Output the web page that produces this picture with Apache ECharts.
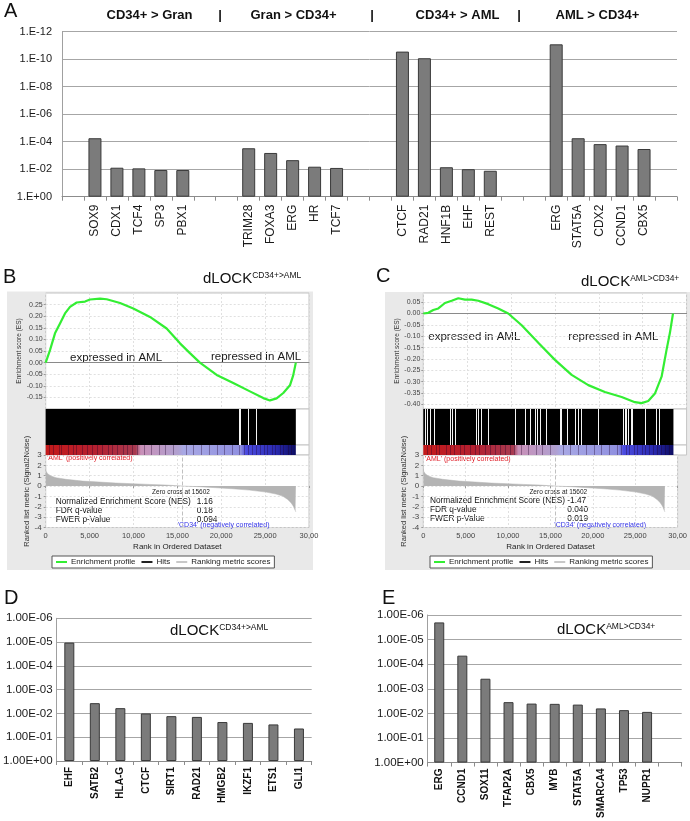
<!DOCTYPE html>
<html><head><meta charset="utf-8">
<script src="https://cdn.jsdelivr.net/npm/echarts@6/dist/echarts.min.js"></script>
<style>html,body{margin:0;padding:0;background:#fff}#c{width:690px;height:821px}</style>
</head><body><div id="c"></div>
<script>
// ---------- Panel A data ----------
const aCategories = ['', 'SOX9','CDX1','TCF4','SP3','PBX1', '', '', 'TRIM28','FOXA3','ERG','HR','TCF7', '', '', 'CTCF','RAD21','HNF1B','EHF','REST', '', '', 'ERG','STAT5A','CDX2','CCND1','CBX5', ''];
const aPvalues = [null, 5.6e-5, 7.8e-3, 8.7e-3, 1.15e-2, 1.15e-2, null, null, 3.0e-4, 6.6e-4, 2.2e-3, 6.6e-3, 8.1e-3, null, null, 2.8e-11, 8.5e-11, 7.2e-3, 1.0e-2, 1.3e-2, null, null, 8.3e-12, 5.6e-5, 1.5e-4, 1.9e-4, 3.4e-4, null];
const aHeaders = ['CD34+ > Gran', 'Gran > CD34+', 'CD34+ > AML', 'AML > CD34+'];

// ---------- Panel D / E data ----------
const dCategories = ['EHF','SATB2','HLA-G','CTCF','SIRT1','RAD21','HMGB2','IKZF1','ETS1','GLI1'];
const dPvalues = [1.05e-5, 3.7e-3, 6.0e-3, 1.0e-2, 1.3e-2, 1.4e-2, 2.3e-2, 2.5e-2, 2.9e-2, 4.3e-2];
const eCategories = ['ERG','CCND1','SOX11','TFAP2A','CBX5','MYB','STAT5A','SMARCA4','TP53','NUPR1',''];
const ePvalues = [2.0e-6, 4.5e-5, 3.9e-4, 3.5e-3, 4.0e-3, 4.1e-3, 4.4e-3, 6.3e-3, 7.4e-3, 8.7e-3, null];

// ---------- GSEA data (rank, value) ----------
const nRanks = 28500;
const zeroCross = 15602;
const esB = [[0,0],[490,0.054],[1060,0.126],[1630,0.169],[2200,0.212],[2770,0.240],[3530,0.259],[4480,0.263],[5050,0.272],[6190,0.276],[6950,0.273],[8470,0.257],[9980,0.233],[11880,0.197],[13780,0.147],[15300,0.083],[16400,0.042],[17570,0.0],[19480,-0.053],[21370,-0.088],[23270,-0.124],[24790,-0.153],[25550,-0.163],[26310,-0.154],[27070,-0.131],[27830,-0.098],[28200,-0.055],[28500,0]];
const esC = [[0,0],[570,0.003],[1140,0.015],[1710,0.022],[2470,0.046],[3230,0.056],[3990,0.067],[4750,0.061],[5510,0.061],[6270,0.056],[7400,0.041],[8540,0.022],[9680,0],[11210,-0.052],[13100,-0.129],[15000,-0.204],[16900,-0.27],[18800,-0.315],[20690,-0.345],[22600,-0.367],[24110,-0.39],[24870,-0.394],[25630,-0.385],[26390,-0.352],[27150,-0.278],[27720,-0.159],[28100,-0.085],[28450,0.0]];
const hitGapsB = [22020, 22210, 23080, 24030];
const hitGapsC = [194, 494, 760, 1253, 3041, 3345, 3686, 6078, 6267, 6647, 7404, 10445, 11584, 12153, 12723, 12985, 13292, 14055, 15570, 15760, 16444, 17279, 17655, 18041, 19932, 22780, 22970, 23166, 23345, 23655, 23802, 25253, 26584, 26880];
const bandStripes = [400, 900, 1500, 1800, 2600, 3100, 3500, 4200, 4700, 5300, 5900, 6400, 7100, 7600, 8200, 8800, 9300, 9900, 10400, 11200, 12000, 12900, 13600, 14500, 16000, 16800, 17700, 18600, 19500, 20300, 21200, 22100, 22600, 23100, 23500, 24000, 24400, 24900, 25300, 25800, 26200, 26700, 27100, 27600, 28000];
const rankedMetric = [[0,1.9],[30,1.45],[220,1.19],[600,0.97],[1170,0.81],[2310,0.65],[4210,0.48],[6110,0.39],[8010,0.29],[9910,0.23],[11800,0.16],[13700,0.10],[15602,0],[17500,-0.06],[19400,-0.16],[21300,-0.26],[23200,-0.39],[25100,-0.58],[26240,-0.77],[27000,-0.97],[27570,-1.29],[27950,-1.61],[28220,-1.94],[28450,-2.4],[28500,-2.5]];
const esTicksC = [-0.40,-0.35,-0.30,-0.25,-0.20,-0.15,-0.10,-0.05,0.00,0.05];
const statsB = [['Normalized Enrichment Score (NES)','1.16'],['FDR q-value','0.18'],['FWER p-Value','0.094']];
const statsC = [['Normalized Enrichment Score (NES)','-1.47'],['FDR q-value','0.040'],['FWER p-Value','0.019']];

const F = 'Liberation Sans, Arial, Helvetica, sans-serif';
const expLabel = prefix => v => { const e = Math.round(Math.log10(v)); return prefix + (e < 0 ? '-' : '+') + String(Math.abs(e)).padStart(2, '0'); };
const green = '#33ee33';
const barStyle = {color:'#7b7b7b', borderColor:'#3a3a3a', borderWidth:1};
const lightSplit = {show:true, lineStyle:{color:'#e0e0e0', type:[2,2], width:1}};
const bandGradient = {type:'linear', x:0, y:0, x2:1, y2:0, colorStops:[
  {offset:0, color:'#c41a1a'}, {offset:0.2, color:'#b42030'}, {offset:0.36, color:'#a83a50'},
  {offset:0.38, color:'#c890b8'}, {offset:0.53, color:'#b0a0d0'}, {offset:0.55, color:'#a8a8e4'},
  {offset:0.78, color:'#9090e0'}, {offset:0.8, color:'#4c4ce0'}, {offset:0.92, color:'#2a2ab0'}, {offset:1, color:'#0c0c60'}]};

const gseaGrid = (left, top, height) => ({left:left, top:top, width:263.3, height:height, show:true, backgroundColor:'#fff', borderColor:'#c4c4c4', borderWidth:1});

const grids = [
  {left:62, top:31.7, width:615, height:165},
  gseaGrid(45.7, 293, 116), gseaGrid(45.7, 409, 36), gseaGrid(45.7, 445, 10), gseaGrid(45.7, 455, 72.5),
  gseaGrid(423.3, 293, 116), gseaGrid(423.3, 409, 36), gseaGrid(423.3, 445, 10), gseaGrid(423.3, 455, 72.5),
  {left:51.7, top:618.3, width:260, height:142.7},
  {left:427.7, top:615, width:254, height:148.3}
];

function gseaAxes(g, esAxis) {
  const xs = [
    {gridIndex:g, type:'value', min:0, max:30000, interval:5000, axisLabel:{show:false}, axisTick:{show:false},
     axisLine:{show:true, onZero:true, lineStyle:{color:'#8a8a8a', width:1}}, splitLine:lightSplit},
    {gridIndex:g+1, type:'value', min:0, max:30000, show:false},
    {gridIndex:g+2, type:'value', min:0, max:30000, show:false},
    {gridIndex:g+3, type:'value', min:0, max:30000, interval:5000,
     axisLabel:{fontSize:7.5, color:'#444', margin:4, formatter: v => v === 30000 ? '30,00' : v.toLocaleString('en-US')},
     axisTick:{show:true, length:2, lineStyle:{color:'#999'}}, axisLine:{show:false}, splitLine:lightSplit,
     name:'Rank in Ordered Dataset', nameLocation:'middle', nameGap:15, nameTextStyle:{fontSize:8, color:'#222'}}
  ];
  const ys = [
    Object.assign({gridIndex:g, type:'value', axisLine:{show:false}, axisTick:{show:true, length:2, lineStyle:{color:'#999'}},
      splitLine:lightSplit, name:'Enrichment score (ES)', nameLocation:'middle', nameGap:23,
      nameTextStyle:{fontSize:6.5, color:'#333'}}, esAxis),
    {gridIndex:g+1, type:'value', min:0, max:1, show:false},
    {gridIndex:g+2, type:'value', min:0, max:1, show:false},
    {gridIndex:g+3, type:'value', min:-4, max:3, interval:1, axisLine:{show:false},
     axisTick:{show:true, length:2, lineStyle:{color:'#999'}}, axisLabel:{fontSize:8, color:'#444', margin:4},
     splitLine:lightSplit, name:'Ranked list metric (Signal2Noise)', nameLocation:'middle', nameGap:15,
     nameTextStyle:{fontSize:7.5, color:'#333'}}
  ];
  return {xs, ys};
}
const gB = gseaAxes(1, {min:-0.2, max:0.3, interval:0.05,
  axisLabel:{fontSize:7, color:'#444', margin:3, showMinLabel:false, showMaxLabel:false, formatter: v => v.toFixed(2)}});
const gC = gseaAxes(5, {min:-0.42, max:0.09,
  axisTick:{show:true, length:2, customValues:esTicksC, lineStyle:{color:'#999'}},
  axisLabel:{fontSize:7, color:'#444', margin:3, customValues:esTicksC, formatter: v => v.toFixed(2)}});

const xAxes = [
  {gridIndex:0, type:'category', data:aCategories, axisLine:{lineStyle:{color:'#8c8c8c'}},
   axisTick:{show:true, interval:0, alignWithLabel:false, length:4, lineStyle:{color:'#8c8c8c'}},
   axisLabel:{interval:0, rotate:90, fontSize:12, color:'#1a1a1a', margin:8, fontFamily:F}},
  ...gB.xs, ...gC.xs,
  {gridIndex:9, type:'category', data:dCategories, axisLine:{lineStyle:{color:'#8c8c8c'}},
   axisTick:{show:true, interval:0, length:4, lineStyle:{color:'#8c8c8c'}},
   axisLabel:{interval:0, rotate:90, fontSize:10, fontWeight:'bold', color:'#111', margin:6}},
  {gridIndex:10, type:'category', data:eCategories, axisLine:{lineStyle:{color:'#8c8c8c'}},
   axisTick:{show:true, interval:0, length:4, lineStyle:{color:'#8c8c8c'}},
   axisLabel:{interval:0, rotate:90, fontSize:10, fontWeight:'bold', color:'#111', margin:6}}
];
const yAxes = [
  {gridIndex:0, type:'log', logBase:10, min:1e-12, max:1, inverse:true, interval:2,
   axisLine:{show:true, lineStyle:{color:'#a0a0a0'}}, axisTick:{show:false},
   axisLabel:{formatter:expLabel('1.E'), fontSize:11, color:'#1a1a1a', margin:10},
   splitLine:{lineStyle:{color:'#a6a6a6', width:1}}},
  ...gB.ys, ...gC.ys,
  {gridIndex:9, type:'log', logBase:10, min:1e-6, max:1, inverse:true, interval:1,
   axisLine:{show:true, lineStyle:{color:'#a0a0a0'}}, axisTick:{show:false},
   axisLabel:{formatter:expLabel('1.00E'), fontSize:11.5, color:'#1a1a1a', margin:4},
   splitLine:{lineStyle:{color:'#a6a6a6', width:1}}},
  {gridIndex:10, type:'log', logBase:10, min:1e-6, max:1, inverse:true, interval:1,
   axisLine:{show:true, lineStyle:{color:'#a0a0a0'}}, axisTick:{show:false},
   axisLabel:{formatter:expLabel('1.00E'), fontSize:11.5, color:'#1a1a1a', margin:4},
   splitLine:{lineStyle:{color:'#a6a6a6', width:1}}}
];

function gseaSeries(g, es, gaps) {
  return [
    {type:'line', name:'Enrichment profile', xAxisIndex:g, yAxisIndex:g, data:es, showSymbol:false, silent:true,
     lineStyle:{color:green, width:2.2}, itemStyle:{color:green}, z:5},
    {type:'line', name:'Hits', xAxisIndex:g+1, yAxisIndex:g+1, data:[], silent:true,
     itemStyle:{color:'#000'}, lineStyle:{color:'#000'},
     markArea:{silent:true, itemStyle:{color:'#000'}, data:[[{xAxis:0},{xAxis:nRanks}]]},
     markLine:{silent:true, symbol:'none', label:{show:false}, lineStyle:{color:'#f4f4f4', width:1, type:'solid'},
       data:gaps.map(r => ({xAxis:r}))}},
    {type:'line', name:'band', xAxisIndex:g+2, yAxisIndex:g+2, data:[], silent:true,
     markArea:{silent:true, itemStyle:{color:bandGradient}, data:[[{xAxis:0},{xAxis:nRanks}]]},
     markLine:{silent:true, symbol:'none', label:{show:false}, lineStyle:{color:'rgba(30,0,40,0.35)', width:1, type:'solid'},
       data:bandStripes.map(r => ({xAxis:r}))}},
    {type:'line', name:'Ranking metric scores', xAxisIndex:g+3, yAxisIndex:g+3, data:rankedMetric, showSymbol:false, silent:true,
     lineStyle:{color:'#b4b4b4', width:0.5}, itemStyle:{color:'#c8c8c8'}, areaStyle:{color:'#b4b4b4', opacity:1},
     markLine:{silent:true, symbol:'none', label:{show:false}, lineStyle:{color:'#c0c0c0', type:'dashed', width:1},
       data:[{xAxis:zeroCross}]}}
  ];
}

const series = [
  {type:'bar', name:'A', xAxisIndex:0, yAxisIndex:0, data:aPvalues, barWidth:13, itemStyle:barStyle, silent:true},
  ...gseaSeries(1, esB, hitGapsB),
  ...gseaSeries(5, esC, hitGapsC),
  {type:'bar', name:'D', xAxisIndex:9, yAxisIndex:9, data:dPvalues, barWidth:10, itemStyle:barStyle, silent:true},
  {type:'bar', name:'E', xAxisIndex:10, yAxisIndex:10, data:ePvalues, barWidth:10, itemStyle:barStyle, silent:true}
];

const T = (x, y, text, o) => Object.assign({type:'text', x:x, y:y, silent:true,
  style:Object.assign({text:text, fontFamily:F, fontSize:11, fill:'#111', align:'left', verticalAlign:'middle'}, o || {})});
const title = (x, y, sup) => ({type:'text', x:x, y:y, silent:true, style:{text:'{a|dLOCK}{b|' + sup + '}', fontFamily:F, fill:'#111',
  align:'left', verticalAlign:'middle', rich:{a:{fontSize:15, fontFamily:F, fill:'#111'}, b:{fontSize:8.5, fontFamily:F, fill:'#111', verticalAlign:'top'}}}});

const graphics = [
  {type:'rect', z:-10, silent:true, shape:{x:7, y:291.5, width:306, height:278.5}, style:{fill:'#e9e9e9'}},
  {type:'rect', z:-10, silent:true, shape:{x:385, y:292, width:305, height:278}, style:{fill:'#e9e9e9'}},
  T(4, 11, 'A', {fontSize:20}), T(3, 277, 'B', {fontSize:20}), T(376, 276, 'C', {fontSize:20}),
  T(4, 598, 'D', {fontSize:20}), T(382, 598, 'E', {fontSize:20}),
  T(149.5, 15, aHeaders[0], {fontSize:13, fontWeight:'bold', align:'center'}),
  T(220, 15, '|', {fontSize:13, fontWeight:'bold', align:'center'}),
  T(293.5, 15, aHeaders[1], {fontSize:13, fontWeight:'bold', align:'center'}),
  T(372, 15, '|', {fontSize:13, fontWeight:'bold', align:'center'}),
  T(457.5, 15, aHeaders[2], {fontSize:13, fontWeight:'bold', align:'center'}),
  T(519, 15, '|', {fontSize:13, fontWeight:'bold', align:'center'}),
  T(597.5, 15, aHeaders[3], {fontSize:13, fontWeight:'bold', align:'center'}),
  title(203, 279, 'CD34+>AML'), title(581, 282, 'AML>CD34+'),
  title(170, 631, 'CD34+>AML'), title(557, 630, 'AML>CD34+'),
  // panel B texts
  T(70, 358, 'expressed in AML', {fontSize:11.5, fill:'#1a1a1a'}),
  T(211, 357, 'repressed in AML', {fontSize:11.5, fill:'#1a1a1a'}),
  T(47, 458, "'AML' (positively correlated)", {fontSize:7, fill:'#e0202a'}),
  T(181, 492.7, 'Zero cross at 15602', {fontSize:6.5, fill:'#222', align:'center'}),
  T(177.7, 525.5, "'CD34' (negatively correlated)", {fontSize:7, fill:'#3232e6'}),
  // panel C texts
  T(428.3, 337.3, 'expressed in AML', {fontSize:11.5, fill:'#1a1a1a'}),
  T(568.3, 337.3, 'repressed in AML', {fontSize:11.5, fill:'#1a1a1a'}),
  T(425, 459, "'AML' (positively correlated)", {fontSize:7, fill:'#e0202a'}),
  T(558.3, 492.7, 'Zero cross at 15602', {fontSize:6.5, fill:'#222', align:'center'}),
  T(554.3, 525.5, "'CD34' (negatively correlated)", {fontSize:7, fill:'#3232e6'})
];
[[statsB, 55.7, 196.7, 501.3], [statsC, 430, 567.3, 500.7]].forEach(([st, xl, xv, y0]) => {
  st.forEach((row, i) => {
    graphics.push(T(xl, y0 + i * 9, row[0], {fontSize:8.3, fill:'#111'}));
    graphics.push(T(xv, y0 + i * 9, row[1], {fontSize:8.3, fill:'#111'}));
  });
});

const legendBase = {orient:'horizontal', top:556, padding:[2,4], itemGap:6, itemWidth:11, itemHeight:2,
  backgroundColor:'#fff', borderColor:'#555', borderWidth:1, selectedMode:false,
  textStyle:{fontSize:8, color:'#222', fontFamily:F, padding:[0,0,0,-1]},
  data:[{name:'Enrichment profile', icon:'rect', itemStyle:{color:green}},
        {name:'Hits', icon:'rect', itemStyle:{color:'#222'}},
        {name:'Ranking metric scores', icon:'rect', itemStyle:{color:'#c8c8c8'}}]};

const chart = echarts.init(document.getElementById('c'), null, {renderer:'canvas'});
chart.setOption({
  animation:false,
  backgroundColor:'#fff',
  textStyle:{fontFamily:F},
  grid:grids,
  xAxis:xAxes,
  yAxis:yAxes,
  series:series,
  legend:[Object.assign({left:52}, legendBase), Object.assign({left:430}, legendBase)],
  graphic:graphics
});
</script></body></html>
